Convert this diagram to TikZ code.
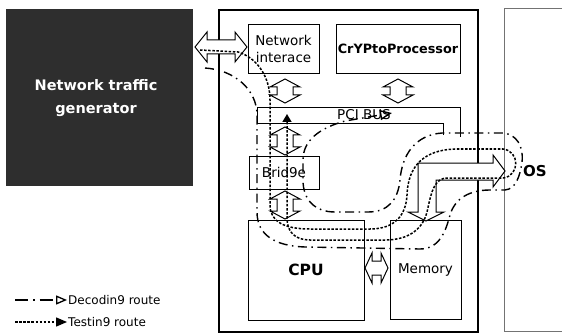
\documentclass[tikz,border=0pt]{standalone}
\usepackage{fontspec}
\setmainfont{DejaVu Sans}
\usetikzlibrary{arrows.meta}
\newcommand\vdarr[3]{\draw[hollow] (#1-8,#2+8) -- (#1-15,#2+8) -- (#1,#2) -- (#1+15,#2+8) -- (#1+8,#2+8) -- (#1+8,#3-8) -- (#1+15,#3-8) -- (#1,#3) -- (#1-15,#3-8) -- (#1-8,#3-8) -- cycle;}
\begin{document}
\begin{tikzpicture}[x=1pt,y=-1pt,
  box/.style={draw=black, line width=0.9pt, inner sep=0pt, align=center},
  hollow/.style={draw=black, fill=white, line width=1pt, line join=miter},
  testr/.style={line width=1.5pt, dash pattern=on 2.5pt off 1.6pt},
  decr/.style={line width=1.4pt, dash pattern=on 9pt off 4.5pt on 1.5pt off 4.5pt},
  lbl/.style={font=\fontsize{12}{16}\selectfont},
]
\useasboundingbox (0,0) rectangle (562,334);
\fill[white] (0,0) rectangle (562,334);

% generator
\node[fill=black!82, minimum width=187pt, minimum height=177pt, inner sep=0pt] (gen) at (99.5,97.5) {};
\node[font=\bfseries\fontsize{14.5}{23}\selectfont, text=white, align=center] (gtxt) at (96,98) {Network traffic\\generator};

% host and OS boxes
\node[draw, line width=1.5pt, minimum width=259pt, minimum height=322pt, inner sep=0pt] (host) at (348.5,171) {};
\draw[black!55, line width=0.8pt] (562,8) -- (504,8) -- (504,331) -- (562,331);
\node[font=\bfseries\fontsize{15}{17}\selectfont] (os) at (535,171) {OS};

% components
\node[box, font=\fontsize{13.5}{17}\selectfont, minimum width=71pt, minimum height=49pt] (ni) at (283.5,48.5) {Network\\interace};
\node[box, minimum width=124pt, minimum height=49pt, font=\bfseries\fontsize{12.8}{14}\selectfont] (cp) at (398,48.5) {CrYPtoProcessor};
\node[box, font=\fontsize{13.5}{16}\selectfont, minimum width=70pt, minimum height=33pt] (br) at (284,172.5) {Brid9e};
\node[box, minimum width=116pt, minimum height=100pt, font=\bfseries\fontsize{15.5}{17}\selectfont] (cpu) at (306,270) {CPU};
\node[box, minimum width=71pt, minimum height=99pt, font=\fontsize{13.5}{15}\selectfont] (mem) at (425.5,269.5) {Memory};

% PCI bus
\draw[line width=0.9pt] (257,123) -- (257,107) -- (460,107) -- (460,137);
\draw[line width=0.9pt] (257,123) -- (443,123) -- (443,135);
\node[font=\fontsize{13.5}{15}\selectfont, inner sep=0pt] (bus) at (364,115) {PCI BUS};

% hollow arrows
\draw[hollow] (195,47) -- (207,32) -- (207,40) -- (235,40) -- (235,32) -- (247,47) -- (235,62) -- (235,54) -- (207,54) -- (207,62) -- cycle;
\vdarr{285}{79}{103}
\vdarr{398}{79}{103}
\vdarr{285}{127}{155}
\vdarr{285}{191}{219}
\draw[hollow] (365,268) -- (372,253) -- (372,261) -- (381,261) -- (381,253) -- (388,268) -- (381,283) -- (381,275) -- (372,275) -- (372,283) -- cycle;
\draw[hollow] (418,163) -- (493,163) -- (493,155) -- (505,171) -- (493,187) -- (493,180) -- (436,180) -- (436,212) -- (444,212) -- (426,221) -- (408,212) -- (418,212) -- cycle;

% testing route
\coordinate (t0) at (200,50);
\coordinate (t1) at (287,114);
\draw[testr, -{Triangle[length=8pt,width=9pt]}] (t0) -- (238,52) .. controls (258,58) and (270,78) .. (270,100) -- (270,205)
  .. controls (270,222) and (285,229) .. (310,229) -- (370,229)
  .. controls (395,229) and (406,215) .. (407,195)
  .. controls (408,165) and (425,150) .. (455,149) -- (503,149)
  .. controls (520,151) and (520,176) .. (503,178) -- (445,178)
  .. controls (432,180) and (430,200) .. (427,212)
  .. controls (423,228) and (410,240) .. (385,240) -- (310,240)
  .. controls (295,240) and (287,232) .. (287,218) -- (t1);

% decoding route
\coordinate (d0) at (205,68);
\coordinate (d1) at (392,113);
\draw[decr, -{Triangle[open, length=12pt, width=10pt]}] (d0) .. controls (235,70) and (257,90) .. (257,115) -- (257,212)
  .. controls (257,235) and (275,246) .. (305,247) -- (420,249)
  .. controls (440,249) and (446,230) .. (450,215)
  .. controls (455,198) and (470,190) .. (490,190) -- (505,190)
  .. controls (516,189) and (520,176) .. (522,162)
  .. controls (524,146) and (516,134) .. (503,133) -- (442,133)
  .. controls (415,135) and (402,155) .. (400,180)
  .. controls (398,200) and (388,212) .. (368,212) -- (335,212)
  .. controls (315,212) and (303,200) .. (303,180) -- (303,160)
  .. controls (303,140) and (320,128) .. (345,121) -- (d1);

% legend
\coordinate (ld0) at (15,300);
\coordinate (ld1) at (67,300);
\draw[line width=1.3pt, dash pattern=on 13pt off 5pt on 1.5pt off 5pt, -{Triangle[open, length=11pt, width=9pt]}] (ld0) -- (ld1);
\node[lbl, anchor=west, inner sep=0pt] (ldt) at (68,300) {Decodin9 route};
\coordinate (lt0) at (15,322);
\coordinate (lt1) at (67,322);
\draw[testr, line width=1.3pt, -{Triangle[length=11pt, width=9pt]}] (lt0) -- (lt1);
\node[lbl, anchor=west, inner sep=0pt] (ltt) at (68,322) {Testin9 route};
\end{tikzpicture}
\end{document}
